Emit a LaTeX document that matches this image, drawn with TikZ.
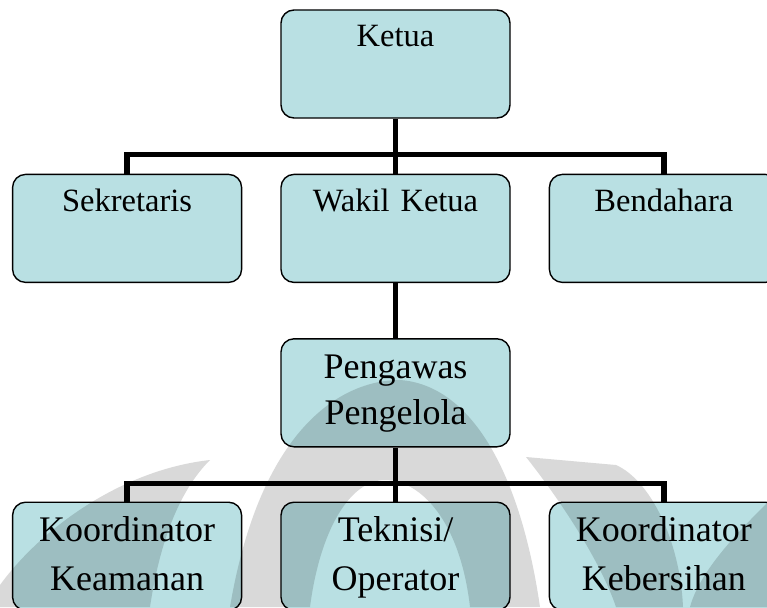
\documentclass[tikz,border=0pt]{standalone}
\usepackage{fontspec}
\setmainfont{Liberation Serif}
\usepackage{xcolor}
\usepackage{tikz}
\usetikzlibrary{positioning}

\definecolor{kotak}{HTML}{B9E0E3}

\begin{document}
\begin{tikzpicture}[x=1pt, y=-1pt, node distance=55pt and 38pt]

    \tikzstyle{jabatan}=[draw=black, line width=1.4pt, fill=kotak, rounded corners=13pt,
        text width=229pt, inner sep=0pt, align=center, text height=37pt, text depth=71pt,
        font=\fontsize{32.5}{39}\selectfont]
    \tikzstyle{pengurus}=[jabatan, text height=40pt, text depth=68pt, font=\fontsize{36}{46}\selectfont]
    \tikzstyle{petugas}=[jabatan, text height=39pt, text depth=69pt, font=\fontsize{36}{49}\selectfont]
    \tikzstyle{garis}=[line width=5.5pt]
    \tikzstyle{logo}=[fill=black, fill opacity=0.15]

    \useasboundingbox (0,0) rectangle (767,607);
    \clip (0,0) rectangle (767,607);

    \node[jabatan] (ketua) at (395.5,64) {Ketua};
    \node[jabatan] (wakil) [below=of ketua] {Wakil Ketua};
    \node[jabatan] (sekretaris) [left=of wakil] {Sekretaris};
    \node[jabatan] (bendahara) [right=of wakil] {Bendahara};
    \node[pengurus] (pengawas) [below=of wakil] {Pengawas\\Pengelola};
    \node[petugas] (teknisi) [below=54pt of pengawas] {Teknisi/\\Operator};
    \node[petugas] (keamanan) [left=of teknisi] {Koordinator\\Keamanan};
    \node[petugas] (kebersihan) [right=of teknisi] {Koordinator\\Kebersihan};

    \draw[garis] (ketua) -- (wakil);
    \draw[garis] (sekretaris.north) |- ([yshift=-36pt]ketua.south) -| (bendahara.north);
    \draw[garis] (wakil) -- (pengawas);
    \draw[garis] (pengawas) -- (teknisi);
    \draw[garis] (keamanan.north) |- ([yshift=-36pt]pengawas.south) -| (kebersihan.north);

    % watermark
    \fill[logo] (210,460) .. controls (120,470) and (40,530) .. (0,585) -- (0,607) -- (150,607) .. controls (160,540) and (180,490) .. (210,460) -- cycle;
    \fill[logo] (230,607) .. controls (260,430) and (340,380) .. (400,380) .. controls (470,385) and (520,470) .. (540,607) -- (470,607) .. controls (460,520) and (420,480) .. (385,480) .. controls (350,480) and (320,530) .. (310,607) -- cycle;
    \fill[logo] (526,457) .. controls (560,500) and (600,560) .. (616,607) -- (683,607) .. controls (680,540) and (650,480) .. (616,465) -- cycle;
    \fill[logo] (690,607) .. controls (700,570) and (740,530) .. (770,500) -- (770,607) -- cycle;

\end{tikzpicture}
\end{document}
